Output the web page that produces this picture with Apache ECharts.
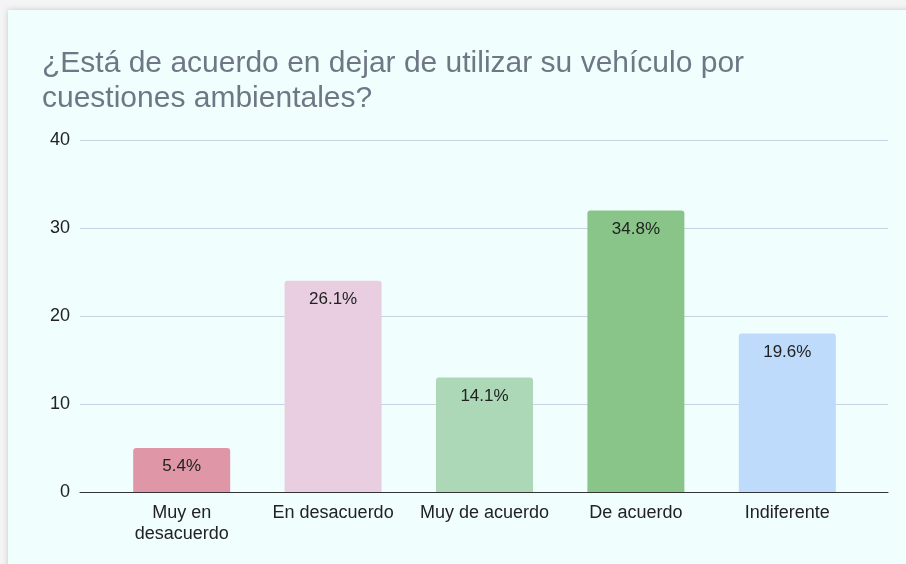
<!DOCTYPE html>
<html lang="es">
<head>
<meta charset="UTF-8">
<title>Vehículo</title>
<script src="https://cdn.jsdelivr.net/npm/echarts@6/dist/echarts.min.js"></script>
<style>
  html, body { margin: 0; padding: 0; background: #f4f4f4; }
  #card { position: absolute; left: 8px; top: 10px; width: 910px; height: 570px;
          background: #f1fefe; box-shadow: 0 0 6px rgba(0,0,0,0.18); }
  #main { position: absolute; left: 0; top: 0; width: 906px; height: 564px; }
</style>
</head>
<body>
<div id="card"></div>
<div id="main"></div>
<script type="text/javascript">
  // datos
  var categories = ['Muy en\ndesacuerdo', 'En desacuerdo', 'Muy de acuerdo', 'De acuerdo', 'Indiferente'];
  var counts = [5, 24, 13, 32, 18];
  var percents = ['5.4%', '26.1%', '14.1%', '34.8%', '19.6%'];
  var barColors = ['#df97a7', '#e9cde1', '#acd8b7', '#89c589', '#bedbfc'];
  var yTicks = [0, 10, 20, 30, 40];

  var font = '"Liberation Sans", Arial, sans-serif';
  var myChart = echarts.init(document.getElementById('main'));

  var option = {
    backgroundColor: 'transparent',
    animation: false,
    title: {
      text: '¿Está de acuerdo en dejar de utilizar su vehículo por\ncuestiones ambientales?',
      left: 37,
      top: 41,
      textStyle: { fontFamily: font, fontSize: 30, fontWeight: 'normal', color: '#6f7785', lineHeight: 35 }
    },
    grid: [
      // rejilla completa: eje y + líneas
      { left: 80, right: 18, top: 140, bottom: 72 },
      // rejilla de las barras
      { left: 106, right: 43, top: 140, bottom: 72 }
    ],
    xAxis: [
      {
        gridIndex: 0, type: 'value', min: 0, max: 1,
        axisLine: { show: true, onZero: false, lineStyle: { color: '#333', width: 1 } },
        axisTick: { show: false }, axisLabel: { show: false }, splitLine: { show: false }
      },
      {
        gridIndex: 1, type: 'category', data: categories,
        axisLine: { show: false }, axisTick: { show: false },
        axisLabel: { fontFamily: font, fontSize: 18, color: '#222', margin: 11, lineHeight: 21, interval: 0 }
      }
    ],
    yAxis: [
      {
        gridIndex: 0, type: 'value', min: yTicks[0], max: yTicks[yTicks.length - 1], interval: 10,
        axisLine: { show: false }, axisTick: { show: false },
        axisLabel: { fontFamily: font, fontSize: 18, color: '#222', margin: 10 },
        splitLine: { lineStyle: { color: '#c9d2e2', width: 1 } }
      },
      {
        gridIndex: 1, type: 'value', min: yTicks[0], max: yTicks[yTicks.length - 1],
        show: false, splitLine: { show: false }
      }
    ],
    series: [
      {
        type: 'bar',
        xAxisIndex: 1, yAxisIndex: 1,
        barWidth: 97,
        data: counts.map(function (v, i) {
          return { value: v, itemStyle: { color: barColors[i], borderRadius: [3, 3, 0, 0] } };
        }),
        label: {
          show: true, position: 'insideTop', distance: 10,
          fontFamily: font, fontSize: 17, color: '#222',
          formatter: function (p) { return percents[p.dataIndex]; }
        }
      }
    ]
  };

  myChart.setOption(option);
</script>
</body>
</html>
